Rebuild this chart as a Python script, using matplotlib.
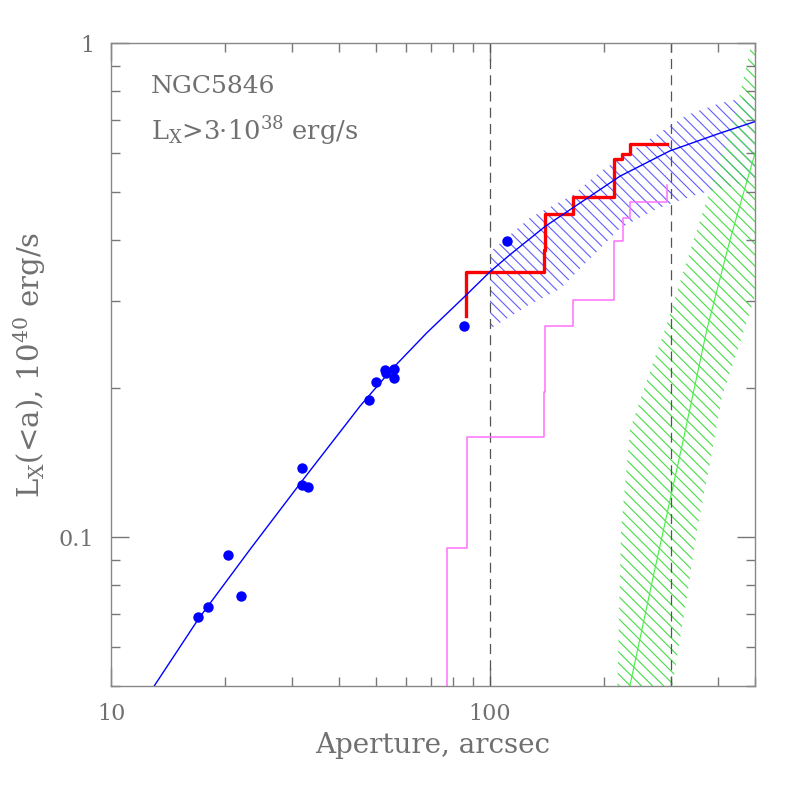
import numpy as np
import matplotlib
matplotlib.use("Agg")
import matplotlib.pyplot as plt
from matplotlib.ticker import LogLocator, FuncFormatter, NullFormatter

# serif font, close to the pgplot look
plt.rcParams['font.family'] = ['DejaVu Serif']
plt.rcParams['mathtext.fontset'] = 'dejavuserif'
plt.rcParams['hatch.linewidth'] = 0.8

# data points (aperture, Lx)
ap_pts = [17.0, 18.0, 20.3, 22.0, 32.0, 31.9, 33.0, 47.9, 49.9, 52.8, 53.0, 55.9, 55.9, 85.2, 111.1]
lx_pts = [0.0689, 0.0721, 0.0921, 0.0761, 0.1383, 0.1278, 0.1264, 0.1897, 0.2060, 0.2178, 0.2150,
          0.2185, 0.2099, 0.2673, 0.3968]

# model curve (blue line)
ap_model = [13.0, 17.0, 23.3, 31.9, 45.4, 55.0, 68.1, 86.4, 100, 112.9, 139.7, 220.3, 298.5, 404.5, 500]
lx_model = [0.0500, 0.0683, 0.0946, 0.1299, 0.1842, 0.2185, 0.2592, 0.3087, 0.3446, 0.373, 0.4254,
            0.5378, 0.6052, 0.6572, 0.6934]

# blue error band
ap_band_hi = [100, 127.5, 165.6, 195.1, 269.2, 331, 404.5, 500]
lx_band_hi = [0.378, 0.443, 0.493, 0.549, 0.646, 0.715, 0.756, 0.782]
ap_band_lo = [100, 127.5, 153.0, 220.3, 269.2, 298.5, 358.2, 500]
lx_band_lo = [0.264, 0.296, 0.318, 0.422, 0.458, 0.473, 0.496, 0.527]

# green band + line
ap_green_hi = [216.3, 221.6, 234.1, 269.2, 289.5, 323.0, 380.6, 437.7, 485.4, 515.8]
lx_green_hi = [0.0471, 0.1038, 0.1653, 0.2258, 0.2631, 0.3430, 0.5047, 0.6894, 0.968, 1.113]
ap_green_lo = [298.5, 331.0, 351.8, 380.6, 409.4, 456.6, 548]
lx_green_lo = [0.0471, 0.0760, 0.1038, 0.1417, 0.1927, 0.2477, 0.3818]
ap_green = [229.9, 269.7, 323.6, 373.2, 429.7, 500]
lx_green = [0.0471, 0.0835, 0.1578, 0.2631, 0.400, 0.5986]

# red cumulative steps
ap_red = [86.4, 86.4, 138.9, 139.7, 165.3, 212.8, 223.0, 234.1, 292.6]
lx_red = [0.280, 0.3436, 0.3818, 0.4514, 0.4869, 0.5822, 0.5967, 0.6252, 0.6252]

# magenta steps
ap_mag = [76.9, 76.9, 86.8, 138.9, 140.0, 165.3, 212.8, 224.0, 234.1, 292.6, 292.6]
lx_mag = [0.03, 0.095, 0.1598, 0.1969, 0.2673, 0.3015, 0.3968, 0.4424, 0.4768, 0.4768, 0.5166]

vlines = [100, 300]

txtc = '#707070'
fig = plt.figure(figsize=(7.97, 7.97), dpi=100)
ax = fig.add_axes([111/797, 1-686/797, (755-111)/797, (686-43)/797])
ax.set_xscale('log')
ax.set_yscale('log')

# bands
ax.fill(ap_band_hi + ap_band_lo[::-1], lx_band_hi + lx_band_lo[::-1],
        facecolor='none', edgecolor='#6060ff', hatch='\\\\\\', linewidth=0)
ax.fill(ap_green_hi + ap_green_lo[::-1], lx_green_hi + lx_green_lo[::-1],
        facecolor='none', edgecolor='#44dd44', hatch='\\\\\\', linewidth=0)
ax.plot(ap_green, lx_green, color='#44ee44', lw=0.8)

for v in vlines:
    ax.axvline(v, color='#555555', lw=0.9, linestyle=(0, (8, 5)))

ax.step(ap_mag, lx_mag, where='post', color='#ff70ff', lw=1.1)
ax.step(ap_red, lx_red, where='post', color='#ff0000', lw=2.4)
ax.plot(ap_model, lx_model, color='#0000ff', lw=1.0)
ax.plot(ap_pts, lx_pts, 'o', color='#0000ff', ms=7.5, mec='none')

ax.set_xlim(10, 500)
ax.set_ylim(0.05, 1)

fmt = FuncFormatter(lambda v, p: '%g' % v)
for a in (ax.xaxis, ax.yaxis):
    a.set_major_locator(LogLocator(base=10))
    a.set_minor_locator(LogLocator(base=10, subs=np.arange(2, 10)))
    a.set_major_formatter(fmt)
    a.set_minor_formatter(NullFormatter())
ax.tick_params(which='both', direction='in', top=True, right=True, colors='#777777',
               labelcolor=txtc, labelsize=16)
ax.tick_params(which='major', length=13, width=1, pad=12)
ax.tick_params(which='minor', length=6.5, width=1)
for s in ax.spines.values():
    s.set_color('#888888')
    s.set_linewidth(1)

ax.set_xlabel('Aperture, arcsec', fontsize=20, color=txtc, labelpad=5)
ax.set_ylabel(r'L$_{\rm X}$(<a), 10$^{40}$ erg/s', fontsize=21, color=txtc, labelpad=8)

ax.text(0.062, 0.932, 'NGC5846', transform=ax.transAxes, fontsize=18, color=txtc,
        va='center', ha='left')
ax.text(0.062, 0.862, 'L$_{\\rm X}$>3\u00b710$^{38}$ erg/s', transform=ax.transAxes,
        fontsize=18.5, color=txtc, va='center', ha='left')

fig.savefig('out.png', dpi=100)
